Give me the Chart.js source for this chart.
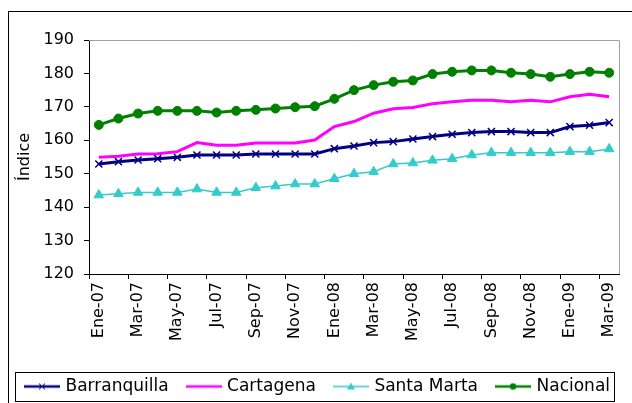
<!DOCTYPE html>
<html>
<head>
<meta charset="utf-8">
<script src="https://cdn.jsdelivr.net/npm/chart.js@4/dist/chart.umd.min.js"></script>
<style>
  body { margin: 0; background: #fff; }
  canvas { display: block; }
</style>
</head>
<body>
<canvas id="myChart" width="632" height="403"></canvas>
<script>
"use strict";

// meses (etiquetas del eje x), solo se muestra uno de cada dos
const months = [
  "Ene-07", "Feb-07", "Mar-07", "Abr-07", "May-07", "Jun-07", "Jul-07", "Ago-07", "Sep-07", "Oct-07", "Nov-07", "Dic-07",
  "Ene-08", "Feb-08", "Mar-08", "Abr-08", "May-08", "Jun-08", "Jul-08", "Ago-08", "Sep-08", "Oct-08", "Nov-08", "Dic-08",
  "Ene-09", "Feb-09", "Mar-09",
];

const barranquilla = [152.9, 153.6, 154.1, 154.5, 154.9, 155.6, 155.6, 155.6, 155.9, 155.9, 155.9, 155.9, 157.5, 158.3,
  159.3, 159.6, 160.4, 161.1, 161.8, 162.3, 162.6, 162.6, 162.3, 162.3, 164.1, 164.5, 165.3];
const cartagena = [154.9, 155.2, 155.9, 156.0, 156.6, 159.3, 158.5, 158.5, 159.2, 159.2, 159.2, 160.1, 164.1, 165.6,
  168.1, 169.4, 169.8, 170.9, 171.5, 172.0, 172.0, 171.5, 172.0, 171.5, 173.0, 173.8, 173.0];
const santaMarta = [143.6, 144.0, 144.4, 144.4, 144.4, 145.4, 144.4, 144.4, 145.8, 146.3, 146.9, 146.9, 148.5, 150.0,
  150.6, 152.9, 153.2, 154.0, 154.5, 155.6, 156.3, 156.3, 156.3, 156.3, 156.6, 156.6, 157.4];
const nacional = [164.6, 166.5, 168.0, 168.8, 168.8, 168.8, 168.3, 168.8, 169.1, 169.5, 169.9, 170.2, 172.4, 175.0,
  176.5, 177.5, 177.9, 179.8, 180.5, 180.9, 180.9, 180.2, 179.8, 179.0, 179.8, 180.5, 180.2];

const yMin = 120;
const yMax = 190;
const yStep = 10;

const FONT = "'DejaVu Sans', Verdana, sans-serif";

// small line + marker images for the legend
function legendSample(color, width, marker) {
  let c = document.createElement("canvas");
  c.width = 36;
  c.height = 14;
  let g = c.getContext("2d");
  g.strokeStyle = color;
  g.fillStyle = color;
  g.lineWidth = width;
  g.beginPath();
  g.moveTo(0, 7);
  g.lineTo(36, 7);
  g.stroke();
  g.lineWidth = 1;
  if (marker === "x") {
    g.beginPath();
    g.moveTo(15, 4); g.lineTo(21, 10);
    g.moveTo(21, 4); g.lineTo(15, 10);
    g.stroke();
  } else if (marker === "tri") {
    g.beginPath();
    g.moveTo(18, 3); g.lineTo(22, 10); g.lineTo(14, 10);
    g.closePath();
    g.fill();
  } else if (marker === "dot") {
    g.beginPath();
    g.arc(18, 7, 3.2, 0, Math.PI * 2);
    g.fill();
  }
  return c;
}

const frames = {
  id: "frames",
  afterDraw(chart) {
    const ctx = chart.ctx;
    const a = chart.chartArea;
    ctx.save();
    // outer chart border
    ctx.strokeStyle = "#000";
    ctx.lineWidth = 1;
    ctx.strokeRect(8.5, 11.5, 700, 500);
    // plot area border (top / right in grey)
    ctx.strokeStyle = "#a0a0a0";
    ctx.beginPath();
    ctx.moveTo(a.left, Math.round(a.top) + 0.5);
    ctx.lineTo(Math.round(a.right) + 0.5, Math.round(a.top) + 0.5);
    ctx.lineTo(Math.round(a.right) + 0.5, a.bottom);
    ctx.stroke();
    // legend box around the legend hit boxes
    const boxes = chart.legend.legendHitBoxes;
    if (boxes && boxes.length) {
      const first = boxes[0];
      const last = boxes[boxes.length - 1];
      const cy = first.top + first.height / 2;
      const x1 = Math.round(first.left - 12) + 0.5;
      const x2 = Math.round(last.left + last.width + 4) + 0.5;
      ctx.strokeStyle = "#000";
      ctx.strokeRect(x1, Math.round(cy - 15) + 0.5, x2 - x1, 29);
    }
    ctx.restore();
  },
};

const data = {
  labels: months,
  datasets: [
    {
      label: "Barranquilla",
      data: barranquilla,
      borderColor: "#000080",
      backgroundColor: "#000080",
      borderWidth: 3,
      pointStyle: "crossRot",
      pointRadius: 5,
      pointBorderWidth: 1.5,
      legendImg: legendSample("#000080", 2.5, "x"),
    },
    {
      label: "Cartagena",
      data: cartagena,
      borderColor: "#ff00ff",
      backgroundColor: "#ff00ff",
      borderWidth: 3,
      pointRadius: 0,
      legendImg: legendSample("#ff00ff", 2.5, ""),
    },
    {
      label: "Santa Marta",
      data: santaMarta,
      borderColor: "#33cccc",
      backgroundColor: "#33cccc",
      borderWidth: 1.5,
      pointStyle: "triangle",
      pointRadius: 5.5,
      pointBorderWidth: 1,
      legendImg: legendSample("#33cccc", 1.5, "tri"),
    },
    {
      label: "Nacional",
      data: nacional,
      borderColor: "#008000",
      backgroundColor: "#008000",
      borderWidth: 3,
      pointStyle: "circle",
      pointRadius: 4.5,
      pointBorderWidth: 1,
      legendImg: legendSample("#008000", 2.5, "dot"),
    },
  ],
};

const config = {
  type: "line",
  data: data,
  plugins: [frames],
  options: {
    responsive: false,
    animation: false,
    events: [],
    elements: { line: { tension: 0 } },
    layout: { padding: { top: 40, right: -5, left: 0, bottom: -2 } },
    plugins: {
      tooltip: { enabled: false },
      legend: {
        position: "bottom",
        labels: {
          color: "#000",
          font: { family: FONT, size: 17 },
          usePointStyle: true,
          pointStyleWidth: 30,
          padding: 20,
          generateLabels(chart) {
            return chart.data.datasets.map((ds, i) => ({
              text: ds.label,
              pointStyle: ds.legendImg,
              fillStyle: ds.borderColor,
              strokeStyle: ds.borderColor,
              lineWidth: 0,
              datasetIndex: i,
              fontColor: "#000",
            }));
          },
        },
      },
    },
    scales: {
      x: {
        type: "category",
        offset: true,
        afterFit(scale) {
          scale.height = 84;
        },
        grid: {
          offset: true,
          drawOnChartArea: false,
          tickLength: 5,
          tickColor: (ctx) => (ctx.index % 2 === 0 ? "#000" : "rgba(0,0,0,0)"),
        },
        border: { color: "#000", width: 1 },
        ticks: {
          autoSkip: false,
          maxRotation: 90,
          minRotation: 90,
          padding: 3,
          color: "#000",
          font: { family: FONT, size: 16 },
          callback: function (value, index) {
            return index % 2 === 0 ? this.getLabelForValue(value) : "";
          },
        },
      },
      y: {
        min: yMin,
        max: yMax,
        afterFit(scale) {
          scale.width = 89;
        },
        grid: {
          drawOnChartArea: false,
          tickLength: 5,
          tickColor: "#000",
        },
        border: { color: "#000", width: 1 },
        ticks: {
          stepSize: yStep,
          padding: 10,
          color: "#000",
          font: { family: FONT, size: 16 },
        },
        title: {
          display: true,
          text: "Índice",
          color: "#000",
          padding: { top: 15, bottom: 0 },
          font: { family: FONT, size: 16 },
        },
      },
      // empty right axis, only keeps the plot area off the right edge
      yRight: {
        position: "right",
        display: true,
        min: yMin,
        max: yMax,
        afterFit(scale) {
          scale.width = 18;
        },
        grid: { display: false },
        border: { display: false },
        ticks: { display: false },
      },
    },
  },
};

const canvasChart = document.getElementById("myChart");
new Chart(canvasChart, config);
</script>
</body>
</html>
